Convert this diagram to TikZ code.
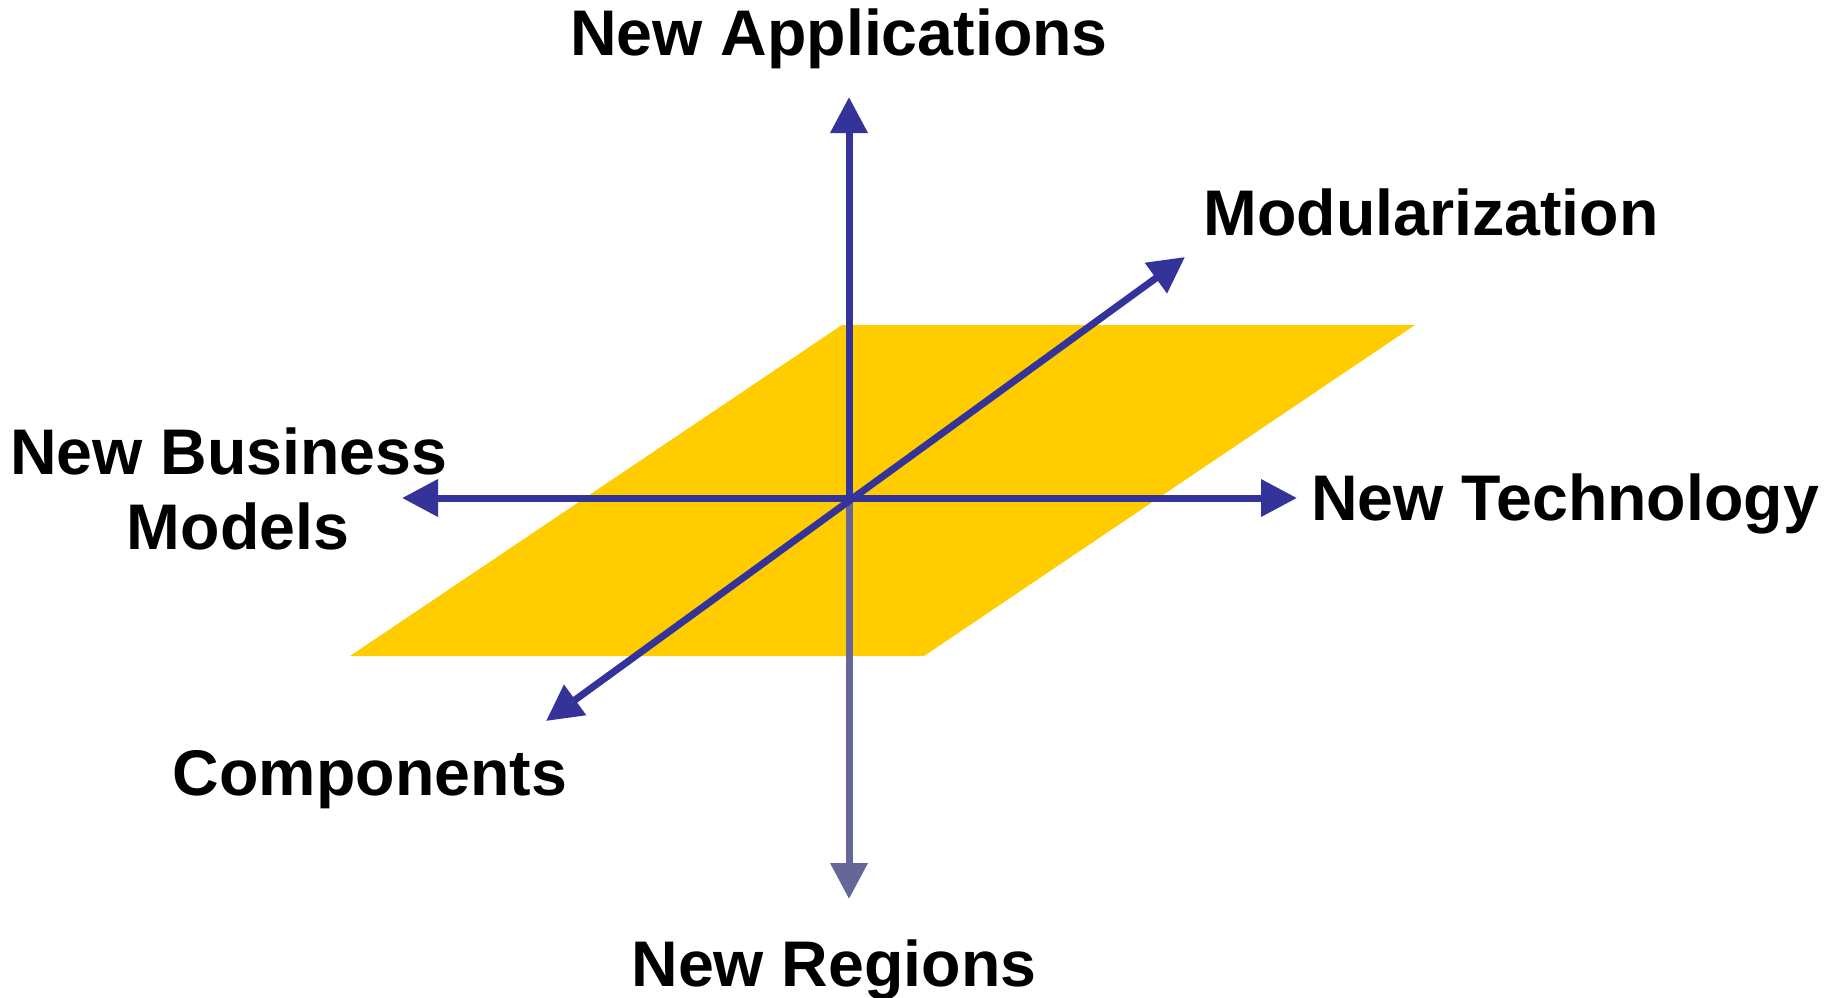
\documentclass[tikz,border=0pt]{standalone}
\usepackage{fontspec}
\setmainfont{Liberation Sans}
\usetikzlibrary{arrows.meta}
\definecolor{axisblue}{HTML}{333399}
\definecolor{axisgray}{HTML}{666699}
\definecolor{plane}{HTML}{FFCC00}
\begin{document}
\begin{tikzpicture}[x=1pt,y=-1pt,
  axis/.style={line width=7pt, draw=axisblue, -{Triangle[length=36pt,width=36pt]}},
  biaxis/.style={line width=7pt, draw=axisblue, {Triangle[length=36pt,width=36pt]}-{Triangle[length=36pt,width=36pt]}},
  lbl/.style={font=\fontsize{64.5}{76}\selectfont\bfseries, inner sep=0pt, align=center}]
  \useasboundingbox (0,0) rectangle (1841,998);
  % the plane
  \fill[plane] (842,325) -- (1415,325) -- (924,656) -- (350,656) -- cycle;
  % axis end points
  \coordinate (o) at (849,498);
  \coordinate (oD) at (849,501);
  \coordinate (up) at (849,97);
  \coordinate (down) at (849,899);
  \coordinate (left) at (402,498);
  \coordinate (right) at (1297,498);
  \coordinate (ne) at (1185,257);
  \coordinate (sw) at (546,721);
  % axes
  \draw[axis, draw=axisgray, fill=axisgray] (oD) -- (down);
  \draw[biaxis, fill=axisblue] (left) -- (right);
  \draw[biaxis, fill=axisblue] (sw) -- (ne);
  \draw[axis, fill=axisblue] (o) -- (up);
  % labels
  \node[lbl, anchor=base] (apps) at (839,56) {New Applications};
  \node[lbl, anchor=base] (mod) at (1431,235) {Modularization};
  \node[lbl, anchor=base] (biz1) at (229,474) {New Business};
  \node[lbl, anchor=base] (biz2) at (238,549) {Models};
  \node[lbl, anchor=base west] (tech) at (1311,520) {New Technology};
  \node[lbl, anchor=base] (comp) at (370,795) {Components};
  \node[lbl, anchor=base] (reg) at (834,986) {New Regions};
\end{tikzpicture}
\end{document}
